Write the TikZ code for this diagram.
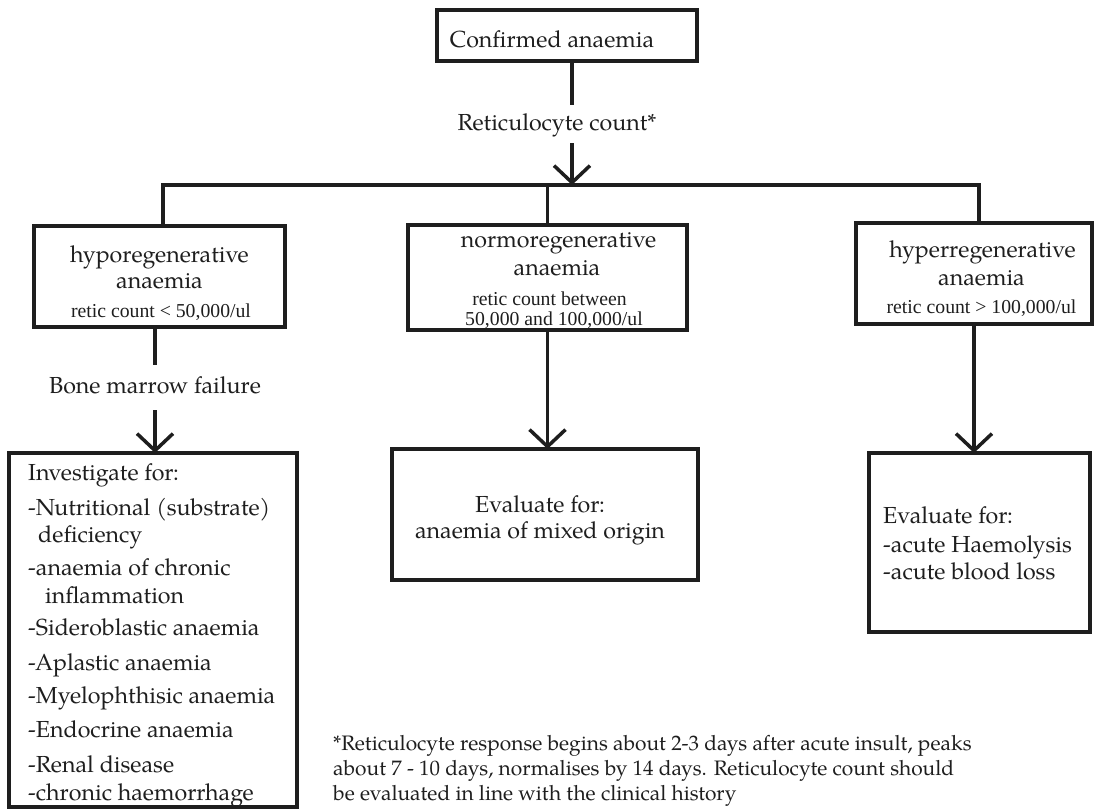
\documentclass[tikz,border=0pt]{standalone}
\usepackage{fontspec}
\setmainfont{TeX Gyre Pagella}
\newfontfamily\timesf{Liberation Serif}
\usetikzlibrary{arrows.meta}
\definecolor{ink}{RGB}{30,30,30}
\tikzset{
  box/.style={draw=ink, line width=3.5bp, inner sep=0pt, outer sep=0pt, rectangle},
  conn/.style={draw=ink, line width=3.5bp},
  arr/.style={conn, -{Straight Barb[length=17bp,width=36bp]}},
  maintext/.style={inner sep=0pt, text=ink, font=\fontsize{23.3}{27}\selectfont},
  smalltext/.style={inner sep=0pt, text=ink, font=\timesf\fontsize{19.8}{22}\selectfont},
}
\begin{document}
\begin{tikzpicture}[x=1bp,y=-1bp]
\fill[white] (0,0) rectangle (1099,809);
\useasboundingbox (0,0) rectangle (1099,809);

% boxes
\node[box, minimum width=260bp, minimum height=51bp] (top) at (567,35.5) {};
\node[box, minimum width=251bp, minimum height=101bp] (hypo) at (159.5,276.5) {};
\node[box, minimum width=279bp, minimum height=105bp] (normo) at (547.5,277.5) {};
\node[box, minimum width=236bp, minimum height=101bp] (hyper) at (974,273.5) {};
\node[box, minimum width=288bp, minimum height=354bp] (inv) at (153,630) {};
\node[box, minimum width=306bp, minimum height=131bp] (neval) at (545,514.5) {};
\node[box, minimum width=221bp, minimum height=179bp] (heval) at (979.5,542.5) {};

% texts
\node[maintext, anchor=base] (topT) at (552,48) {Confirmed anaemia};
\node[maintext, anchor=base] (retic) at (557,130) {Reticulocyte count*};

\node[maintext, anchor=base] (hypoT1) at (159.5,262) {hyporegenerative};
\node[maintext, anchor=base] (hypoT2) at (159.5,288) {anaemia};
\node[smalltext, anchor=base] (hypoT3) at (161,317) {retic count < 50,000/ul};

\node[maintext, anchor=base] (normoT1) at (558.5,247) {normoregenerative};
\node[maintext, anchor=base] (normoT2) at (557,275) {anaemia};
\node[smalltext, anchor=base] (normoT3) at (549.5,305) {retic count between};
\node[smalltext, anchor=base] (normoT4) at (554,325) {50,000 and 100,000/ul};

\node[maintext, anchor=base] (hyperT1) at (982.5,257) {hyperregenerative};
\node[maintext, anchor=base] (hyperT2) at (981.5,285) {anaemia};
\node[smalltext, anchor=base] (hyperT3) at (981.5,313) {retic count > 100,000/ul};

\node[maintext, anchor=base] (bone) at (155,393) {Bone marrow failure};

\foreach \t/\x/\y [count=\i] in {
  {Investigate for:}/28/480,
  {-Nutritional (substrate)}/28/515,
  {deficiency}/38/542,
  {-anaemia of chronic}/28/575,
  {inflammation}/45/603,
  {-Sideroblastic anaemia}/28/635,
  {-Aplastic anaemia}/28/670,
  {-Myelophthisic anaemia}/28/703,
  {-Endocrine anaemia}/28/737,
  {-Renal disease}/28/772,
  {-chronic haemorrhage}/28/800}
  \node[maintext, anchor=base west] (invT\i) at (\x,\y) {\t};

\node[maintext, anchor=base] (nevalT1) at (540,512) {Evaluate for:};
\node[maintext, anchor=base] (nevalT2) at (540,538) {anaemia of mixed origin};

\node[maintext, anchor=base west] (hevalT1) at (883,523) {Evaluate for:};
\node[maintext, anchor=base west] (hevalT2) at (883,552) {-acute Haemolysis};
\node[maintext, anchor=base west] (hevalT3) at (883,579) {-acute blood loss};

\node[maintext, anchor=north west, align=left, font=\fontsize{21}{25}\selectfont] (note) at (333,735)
  {*Reticulocyte response begins about 2-3 days after acute insult, peaks\\
   about 7 - 10 days, normalises by 14 days. Reticulocyte count should\\
   be evaluated in line with the clinical history};

% connector coordinates
\coordinate (r1) at (572,105);
\coordinate (r2) at (572,143);
\coordinate (j) at (572,185);
\coordinate (hl) at (163,185);
\coordinate (hr) at (979,185);
\coordinate (b1) at (155,365);
\coordinate (b2) at (155,410);

% connectors
\draw[conn] (top.south -| r1) -- (r1);
\draw[arr] (r2) -- (j);
\draw[conn, line join=miter] (hypo.north -| hl) -- (hl) -- (hr) -- (hyper.north -| hr);
\draw[conn] (normo.north |- hl) -- (normo.north);
\draw[conn] (hypo.south -| b1) -- (b1);
\draw[arr] (b2) -- (inv.north -| b2);
\draw[arr] (normo.south) -- (normo.south |- neval.north);
\draw[arr] (hyper.south) -- (hyper.south |- heval.north);
\end{tikzpicture}
\end{document}
